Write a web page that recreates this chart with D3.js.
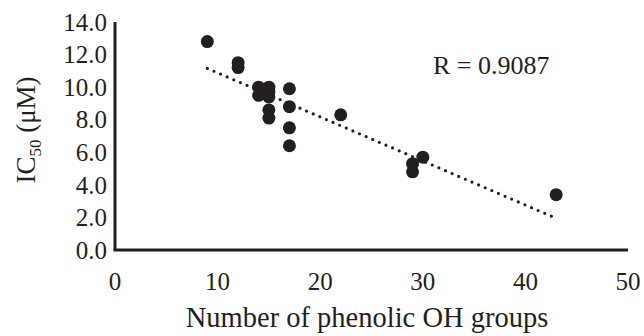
<!DOCTYPE html>
<html>
<head>
<meta charset="utf-8">
<script src="https://cdn.jsdelivr.net/npm/d3@7"></script>
<style>
  body { margin: 0; background: #fff; }
  text { font-family: "Liberation Serif", "Times New Roman", serif; fill: #231f20; }
</style>
</head>
<body>
<svg id="chart"></svg>
<script>
/*data*/
const ohGroups = [9, 12, 12, 14, 14, 15, 15, 15, 15, 15, 17, 17, 17, 17, 22, 29, 29, 30, 43];
const ic50     = [12.8, 11.5, 11.2, 10.0, 9.5, 10.0, 9.7, 9.4, 8.6, 8.1, 9.9, 8.8, 7.5, 6.4, 8.3, 5.3, 4.8, 5.7, 3.4];
/*dotted trend line, ends*/
const trendX = [9, 43];
const trendY = [11.15, 1.95];
const xTicks = [0, 10, 20, 30, 40, 50];
const yTicks = [0, 2, 4, 6, 8, 10, 12, 14];
const rLabel = "R = 0.9087";

const chartWidth = 644, chartHeight = 336;
const plotLeft = 115, plotRight = 628, plotTop = 22, plotBottom = 250;
const ink = "#231f20";

const svg = d3.select("#chart").attr("width", chartWidth).attr("height", chartHeight);

const x = d3.scaleLinear().domain([0, 50]).range([plotLeft, plotRight]);
const y = d3.scaleLinear().domain([0, 14]).range([plotBottom, plotTop]);

/*axes: only lines, no tick marks*/
svg.append("line")
  .attr("x1", plotLeft).attr("x2", plotLeft).attr("y1", plotTop).attr("y2", plotBottom)
  .attr("stroke", ink).attr("stroke-width", 3);
svg.append("line")
  .attr("x1", plotLeft - 1.5).attr("x2", plotRight).attr("y1", plotBottom).attr("y2", plotBottom)
  .attr("stroke", ink).attr("stroke-width", 3);

svg.selectAll(".ytick").data(yTicks).enter().append("text")
  .attr("class", "ytick")
  .attr("x", plotLeft - 8)
  .attr("y", d => y(d))
  .attr("dy", "0.35em")
  .attr("text-anchor", "end")
  .attr("font-size", 25)
  .text(d => d.toFixed(1));

svg.selectAll(".xtick").data(xTicks).enter().append("text")
  .attr("class", "xtick")
  .attr("x", d => x(d))
  .attr("y", 290)
  .attr("text-anchor", "middle")
  .attr("font-size", 25)
  .text(d => d);

/*axis titles*/
svg.append("text")
  .attr("x", 367)
  .attr("y", 327)
  .attr("text-anchor", "middle")
  .attr("font-size", 28.5)
  .text("Number of phenolic OH groups");

const yTitle = svg.append("text")
  .attr("transform", "translate(35,130) rotate(-90)")
  .attr("text-anchor", "middle")
  .attr("font-size", 27);
yTitle.append("tspan").text("IC");
yTitle.append("tspan").attr("font-size", 17).attr("dy", 6).text("50");
yTitle.append("tspan").attr("dy", -6).text(" (\u03bcM)");

/*trend line*/
svg.append("line")
  .attr("x1", x(trendX[0])).attr("y1", y(trendY[0]))
  .attr("x2", x(trendX[1])).attr("y2", y(trendY[1]))
  .attr("stroke", ink)
  .attr("stroke-width", 3.2)
  .attr("stroke-linecap", "round")
  .attr("stroke-dasharray", "0 7.2");

/*points*/
svg.selectAll(".pt").data(ohGroups).enter().append("circle")
  .attr("class", "pt")
  .attr("cx", d => x(d))
  .attr("cy", (d, i) => y(ic50[i]))
  .attr("r", 6.5)
  .attr("fill", ink);

svg.append("text")
  .attr("x", 433)
  .attr("y", 74)
  .attr("font-size", 26)
  .text(rLabel);
</script>
</body>
</html>
